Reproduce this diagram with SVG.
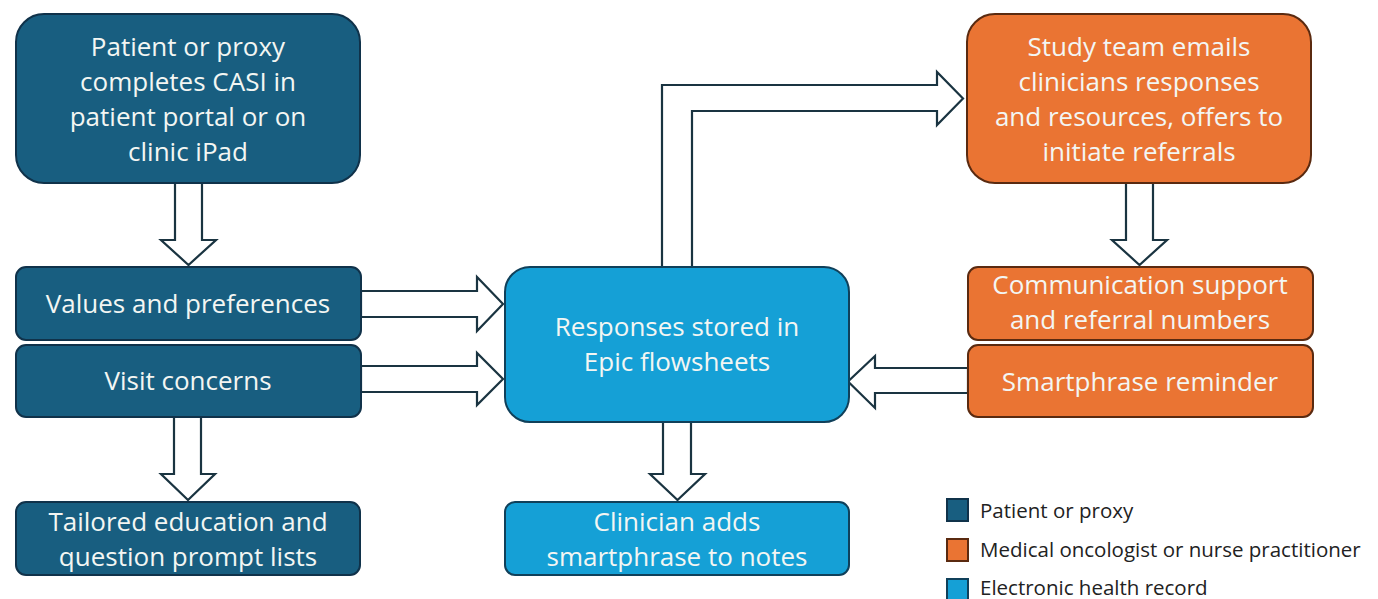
<svg xmlns="http://www.w3.org/2000/svg" width="1378" height="599" viewBox="0 0 1378 599">
<style>
.pt{fill:#185e80;stroke:#10324a;stroke-width:2}
.md{fill:#ea7433;stroke:#5a2a10;stroke-width:2}
.eh{fill:#15a0d6;stroke:#10405a;stroke-width:2}
.t{font-family:"Open Sans","Liberation Sans",sans-serif;font-size:26px;fill:#f3f6f3;text-anchor:middle}
.ar{fill:#ffffff;stroke:#1a3441;stroke-width:2.2;stroke-linejoin:miter}
.lg{font-family:"Open Sans","Liberation Sans",sans-serif;font-size:20.5px;fill:#222}
</style>
<rect width="1378" height="599" fill="#ffffff"/>
<g id="connectors">
<path class="ar" d="M175,183 V240 H161 L188.5,265 L216,240 H202 V183 Z"/>
<path class="ar" d="M361,291 H477 V277 L503,304 L477,331 V317 H361 Z"/>
<path class="ar" d="M361,366 H477 V353 L503,379 L477,405 V392 H361 Z"/>
<path class="ar" d="M174,417 V474 H161 L188,500 L215,474 H201 V417 Z"/>
<path class="ar" d="M663,422 V474 H650 L677.5,500 L705,474 H691 V422 Z"/>
<path class="ar" d="M662,267 V85 H937 V72 L963,98.5 L937,125 V111 H692 V267 Z"/>
<path class="ar" d="M1126,183 V240 H1112 L1139.5,265 L1167,240 H1153 V183 Z"/>
<path class="ar" d="M968,368 H875 V356 L848,381.5 L875,408 V393 H968 Z"/>
</g>
<g id="n1">
<rect class="pt" x="16" y="14" width="344" height="169" rx="28"/>
<text class="t" x="188" y="56">Patient or proxy</text>
<text class="t" x="188" y="91">completes CASI in</text>
<text class="t" x="188" y="126">patient portal or on</text>
<text class="t" x="188" y="161">clinic iPad</text>
</g>
<g id="n2">
<rect class="pt" x="16" y="267" width="345" height="73" rx="10"/>
<text class="t" x="188" y="313">Values and preferences</text>
</g>
<g id="n3">
<rect class="pt" x="16" y="345" width="345" height="72" rx="10"/>
<text class="t" x="188" y="390">Visit concerns</text>
</g>
<g id="n4">
<rect class="pt" x="16" y="502" width="344" height="73" rx="10"/>
<text class="t" x="188" y="531">Tailored education and</text>
<text class="t" x="188" y="566">question prompt lists</text>
</g>
<g id="n5">
<rect class="eh" x="505" y="267" width="344" height="155" rx="25"/>
<text class="t" x="677" y="336">Responses stored in</text>
<text class="t" x="677" y="371">Epic flowsheets</text>
</g>
<g id="n6">
<rect class="eh" x="505" y="502" width="344" height="73" rx="10"/>
<text class="t" x="677" y="531">Clinician adds</text>
<text class="t" x="677" y="566">smartphrase to notes</text>
</g>
<g id="n7">
<rect class="md" x="967" y="14" width="344" height="169" rx="28"/>
<text class="t" x="1139" y="56">Study team emails</text>
<text class="t" x="1139" y="91">clinicians responses</text>
<text class="t" x="1139" y="126">and resources, offers to</text>
<text class="t" x="1139" y="161">initiate referrals</text>
</g>
<g id="n8">
<rect class="md" x="968" y="267" width="345" height="73" rx="10"/>
<text class="t" x="1140" y="294">Communication support</text>
<text class="t" x="1140" y="329">and referral numbers</text>
</g>
<g id="n9">
<rect class="md" x="968" y="345" width="345" height="72" rx="10"/>
<text class="t" x="1140" y="391">Smartphrase reminder</text>
</g>
<g id="legend">
<rect class="pt" x="947" y="499" width="21" height="22"/>
<text class="lg" x="980" y="518">Patient or proxy</text>
<rect class="md" x="947" y="539" width="21" height="22"/>
<text class="lg" x="980" y="557">Medical oncologist or nurse practitioner</text>
<rect class="eh" x="947" y="579" width="21" height="22"/>
<text class="lg" x="980" y="595">Electronic health record</text>
</g>
</svg>
